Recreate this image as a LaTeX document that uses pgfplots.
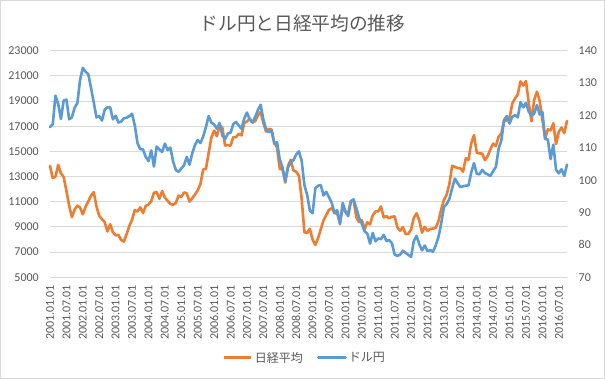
\documentclass[border=0pt]{standalone}
\usepackage{fontspec}
\setmainfont{Carlito}
\newfontfamily\jp{Noto Sans CJK JP}
\usepackage{pgfplots}
\usepackage{pgfplotstable}
\pgfplotsset{compat=1.18}
\definecolor{xlorange}{HTML}{ED7D31}
\definecolor{xlblue}{HTML}{5B9BD5}
\definecolor{xlgray}{HTML}{595959}
\definecolor{xlgrid}{HTML}{D9D9D9}

% month index (0 = 2001.01), Nikkei 225 month-end
\pgfplotstableread{
m v
0 13843
1 12883
2 12999
3 13934
4 13262
5 12969
6 11860
7 10713
8 9774
9 10366
10 10697
11 10542
12 9997
13 10587
14 11024
15 11492
16 11763
17 10621
18 9877
19 9619
20 9383
21 8640
22 9215
23 8578
24 8339
25 8363
26 7972
27 7831
28 8425
29 9083
30 9563
31 10343
32 10219
33 10560
34 10100
35 10677
36 10783
37 11042
38 11715
39 11762
40 11236
41 11858
42 11326
43 11082
44 10824
45 10771
46 10899
47 11489
48 11388
49 11740
50 11669
51 11009
52 11277
53 11584
54 11900
55 12413
56 13574
57 13607
58 14872
59 16111
60 16650
61 16206
62 17060
63 16906
64 15467
65 15505
66 15457
67 16141
68 16128
69 16399
70 16274
71 17226
72 17383
73 17604
74 17288
75 17400
76 17876
77 18138
78 17249
79 16569
80 16786
81 16737
82 15681
83 15308
84 13592
85 13603
86 12526
87 13850
88 14339
89 13481
90 13377
91 13073
92 11260
93 8577
94 8512
95 8860
96 7994
97 7568
98 8110
99 8828
100 9523
101 9958
102 10357
103 10493
104 10133
105 10035
106 9346
107 10546
108 10198
109 10126
110 11090
111 11057
112 9769
113 9383
114 9537
115 8824
116 9369
117 9202
118 9937
119 10229
120 10238
121 10624
122 9755
123 9850
124 9694
125 9816
126 9833
127 8955
128 8700
129 8988
130 8435
131 8455
132 8803
133 9723
134 10084
135 9521
136 8543
137 9007
138 8695
139 8840
140 8870
141 8928
142 9446
143 10395
144 11139
145 11559
146 12398
147 13861
148 13775
149 13677
150 13668
151 13389
152 14456
153 14328
154 15662
155 16291
156 14915
157 14841
158 14828
159 14304
160 14632
161 15162
162 15621
163 15425
164 16174
165 16414
166 17460
167 17451
168 17674
169 18798
170 19207
171 19520
172 20563
173 20236
174 20585
175 18890
176 17388
177 19083
178 19747
179 19034
180 17518
181 16027
182 16759
183 16666
184 17235
185 15576
186 16569
187 16887
188 16450
189 17425
}\nikkei

% USD/JPY month-end
\pgfplotstableread{
m v
0 116.4
1 117.3
2 126.1
3 123.6
4 118.9
5 124.6
6 124.9
7 118.8
8 119.4
9 122.4
10 123.8
11 131.0
12 134.7
13 133.5
14 132.7
15 128.5
16 124.0
17 119.4
18 119.8
19 118.4
20 121.8
21 122.5
22 122.5
23 118.8
24 119.9
25 117.8
26 118.1
27 119.1
28 119.3
29 119.8
30 120.5
31 116.9
32 111.4
33 109.6
34 109.5
35 107.2
36 105.9
37 109.2
38 104.2
39 110.4
40 109.5
41 108.7
42 111.3
43 109.3
44 110.1
45 105.8
46 103.1
47 102.6
48 103.6
49 104.6
50 107.2
51 104.8
52 108.3
53 110.9
54 112.4
55 111.5
56 113.5
57 116.4
58 119.8
59 117.8
60 117.2
61 115.9
62 117.7
63 113.8
64 112.7
65 114.4
66 114.7
67 117.3
68 118.0
69 116.9
70 115.9
71 119.0
72 120.9
73 118.8
74 117.9
75 119.5
76 121.7
77 123.3
78 118.7
79 115.8
80 114.8
81 115.4
82 111.3
83 111.7
84 106.4
85 103.9
86 99.7
87 103.9
88 105.5
89 106.2
90 107.9
91 108.9
92 106.0
93 98.5
94 95.5
95 90.6
96 89.8
97 97.5
98 98.3
99 98.5
100 95.3
101 96.4
102 94.7
103 93.0
104 89.8
105 90.7
106 86.4
107 93.0
108 90.3
109 88.9
110 93.4
111 94.1
112 91.3
113 88.4
114 86.5
115 84.2
116 83.5
117 80.4
118 83.7
119 81.1
120 82.0
121 81.8
122 83.1
123 81.2
124 81.5
125 80.5
126 77.0
127 76.6
128 77.0
129 78.2
130 77.6
131 76.9
132 76.3
133 81.2
134 82.8
135 80.2
136 78.3
137 79.8
138 78.1
139 78.4
140 77.9
141 79.8
142 82.4
143 86.6
144 91.7
145 92.6
146 94.2
147 97.5
148 100.5
149 99.1
150 97.9
151 98.1
152 98.3
153 98.4
154 102.4
155 105.3
156 102.0
157 101.8
158 103.2
159 102.2
160 101.8
161 101.3
162 102.8
163 104.1
164 109.7
165 112.3
166 118.6
167 119.8
168 117.5
169 119.6
170 120.1
171 119.4
172 124.1
173 122.5
174 123.9
175 121.2
176 119.9
177 120.6
178 123.2
179 120.3
180 121.1
181 112.7
182 112.6
183 106.5
184 111.0
185 103.2
186 102.1
187 103.4
188 101.3
189 104.8
}\usdjpy

\pgfplotsset{
  common/.style={
    at={(50pt,101.7pt)}, anchor=south west,
    scale only axis, width=517pt, height=226.6pt,
    xmin=0, xmax=189,
    axis line style={draw=none},
    tick style={draw=none},
    major tick length=0pt,
    scaled y ticks=false,
    every tick label/.append style={font=\fontsize{12}{12}\selectfont, text=xlgray, inner sep=0pt},
    /pgf/number format/assume math mode=true,
    /pgf/number format/1000 sep={},
    clip=false,
  },
}

\begin{document}
\begin{tikzpicture}
\useasboundingbox (0,0) rectangle (605pt,379pt);
\fill[white] (0,0) rectangle (605pt,379pt);
\draw[xlgrid, line width=1pt] (0.5pt,0.5pt) rectangle (604.5pt,378.5pt);

\begin{axis}[common,
  ymin=5000, ymax=23000, ytick={5000,7000,...,23000},
  ymajorgrids, grid style={draw=xlgrid, line width=0.9pt},
  yticklabel shift=11pt,
  xtick={0,6,...,186},
  xticklabels={2001.01.01,2001.07.01,2002.01.01,2002.07.01,2003.01.01,2003.07.01,2004.01.01,2004.07.01,2005.01.01,2005.07.01,2006.01.01,2006.07.01,2007.01.01,2007.07.01,2008.01.01,2008.07.01,2009.01.01,2009.07.01,2010.01.01,2010.07.01,2011.01.01,2011.07.01,2012.01.01,2012.07.01,2013.01.01,2013.07.01,2014.01.01,2014.07.01,2015.01.01,2015.07.01,2016.01.01,2016.07.01},
  x tick label style={rotate=90, anchor=east},
  xticklabel shift=7.5pt,
]
\addplot[xlorange, line width=2.6pt, line join=round, line cap=round] table[x=m, y=v] {\nikkei};
\end{axis}

\begin{axis}[common,
  ymin=70, ymax=140, ytick={70,80,...,140},
  axis y line*=right,
  axis x line=none,
  yticklabel shift=11.5pt,
  y tick label style={anchor=west},
  legend style={at={(0.493,-0.356)}, anchor=center, draw=none, fill=none,
    legend columns=2, font=\jp\fontsize{12}{12}\selectfont, text=xlgray,
    /tikz/every even column/.append style={column sep=12pt},
    inner sep=0pt},
  legend image code/.code={\draw[#1, line width=3pt] (0pt,0pt) -- (27pt,0pt);},
]
\addlegendimage{xlorange}
\addlegendentry{日経平均}
\addplot[xlblue, line width=2.6pt, line join=round, line cap=round] table[x=m, y=v] {\usdjpy};
\addlegendentry{ドル円}
\end{axis}

\node[font=\jp\fontsize{18.7}{18.7}\selectfont, text=xlgray] at (302.5pt,355.5pt) {ドル円と日経平均の推移};
\end{tikzpicture}
\end{document}
